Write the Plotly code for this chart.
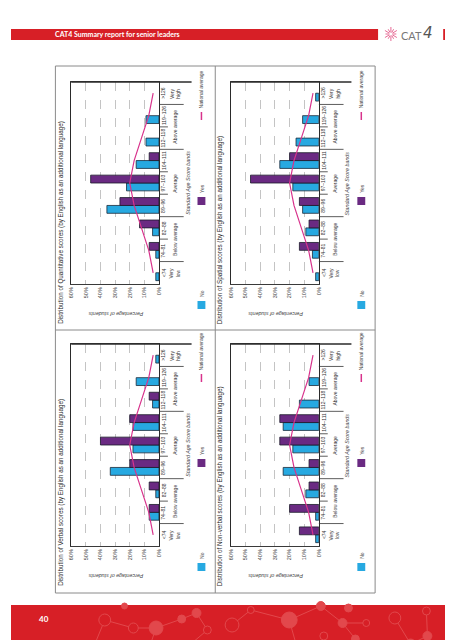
import plotly.graph_objects as go
import math

W, H = 453, 640

# ---------------- data ----------------
categories = ["<74", "74–81", "82–88", "89–96", "97–103", "104–111", "112–118", "119–126", ">126"]
band_groups = ["Very<br>low", "Below average", "Average", "Above average", "Very<br>high"]
group_centres = [0, 1.5, 4, 6.5, 8]
group_bounds = [0.5, 2.5, 5.5, 7.5]
value_ticks = [0, 10, 20, 30, 40, 50, 60]
value_tick_labels = ["0%", "10%", "20%", "30%", "40%", "50%", "60%"]
national_average = [4, 7, 12, 17, 20, 17, 12, 7, 4]

quant_no = [2.2, 2.2, 4.4, 35.6, 22.2, 15.6, 8.9, 8.9, 0]
quant_yes = [0, 6.7, 13.3, 26.7, 46.7, 6.7, 0, 0, 0]
spatial_no = [2.2, 4.4, 8.9, 11.1, 17.8, 26.7, 15.6, 11.1, 2.2]
spatial_yes = [0, 13.3, 6.7, 13.3, 46.7, 20.0, 0, 0, 0]
verbal_no = [0, 6.7, 2.2, 33.3, 17.8, 17.8, 4.4, 15.6, 2.2]
verbal_yes = [0, 6.7, 6.7, 20.0, 40.0, 20.0, 6.7, 0, 0]
nonverbal_no = [2.2, 2.2, 8.9, 24.4, 17.8, 24.4, 13.3, 6.7, 0]
nonverbal_yes = [13.3, 20.0, 6.7, 6.7, 26.7, 26.7, 0, 0, 0]

panel_names = ["Quantitative", "Spatial", "Verbal", "Non-verbal"]
panel_no = [quant_no, spatial_no, verbal_no, nonverbal_no]
panel_yes = [quant_yes, spatial_yes, verbal_yes, nonverbal_yes]

header_text = "CAT4 Summary report for senior leaders"
page_number = "40"

# ---------------- styling ----------------
RED = "#d71f26"
RED_LIGHT = "#e2484c"
BLUE = "#27a9e1"
PURPLE = "#6a2a82"
MAGENTA = "#d8338c"
FONT = "Liberation Sans, Arial, sans-serif"

def X(p):
    return p / W

def Y(p):
    return 1 - p / H

fig = go.Figure()
shapes = []
annotations = []

offsets = [(0, 0), (162, 0), (0, 262), (162, 262)]

def nz(vals):
    return [v if v else None for v in vals]

for i, name in enumerate(panel_names):
    dx, dy = offsets[i]
    k = "" if i == 0 else str(i + 1)
    xa, ya = "x" + k, "y" + k
    px0, px1 = 61 + dx, 150 + dx
    py0, py1 = 74 + dy, 276 + dy

    fig.add_trace(go.Bar(
        x=nz(panel_no[i]), y=categories, orientation="h", name="No",
        marker=dict(color=BLUE, line=dict(color="#1b2a3a", width=0.8)),
        xaxis=xa, yaxis=ya, showlegend=False, hoverinfo="skip"))
    fig.add_trace(go.Bar(
        x=nz(panel_yes[i]), y=categories, orientation="h", name="Yes",
        marker=dict(color=PURPLE, line=dict(color="#1b1b2a", width=0.8)),
        xaxis=xa, yaxis=ya, showlegend=False, hoverinfo="skip"))
    fig.add_trace(go.Scatter(
        x=national_average, y=categories, mode="lines", name="National average",
        line=dict(color=MAGENTA, width=1.2),
        xaxis=xa, yaxis=ya, showlegend=False, hoverinfo="skip"))

    fig.update_layout(**{
        "xaxis" + k: dict(domain=[X(px0), X(px1)], anchor=ya, range=[60, 0],
                           tickvals=value_ticks, ticktext=value_tick_labels,
                           tickangle=-90, tickfont=dict(size=5.5, color="#444", family=FONT),
                           showgrid=True, gridcolor="#c4c4c4", griddash="dash", gridwidth=0.6,
                           zeroline=False, showline=True, mirror=True,
                           linecolor="#3a3a3a", linewidth=1, ticks="", fixedrange=True),
        "yaxis" + k: dict(domain=[Y(py1), Y(py0)], anchor=xa, type="category",
                           categoryorder="array", categoryarray=categories,
                           range=[-0.5, 8.5], side="right", showticklabels=False,
                           showgrid=False, zeroline=False, showline=True, mirror=True,
                           linecolor="#2a2a2a", linewidth=1.3, ticks="", fixedrange=True),
    })

    # title
    annotations.append(dict(
        text=f"Distribution of {name} scores (by English as an additional language)",
        x=X(50 + dx), y=Y(318 + dy), xref="paper", yref="paper",
        xanchor="center", yanchor="bottom", textangle=-90, showarrow=False,
        font=dict(size=6.3, color="#2b2b2b", family=FONT)))

    # category labels
    for j, c in enumerate(categories):
        annotations.append(dict(
            text=c, x=X(154.5 + dx), y=j, xref="paper", yref=ya,
            xanchor="center", yanchor="middle", textangle=-90, showarrow=False,
            font=dict(size=5, color="#333", family=FONT)))
    # group labels
    for g, pos in zip(band_groups, group_centres):
        annotations.append(dict(
            text=g, x=X(166 + dx), y=pos, xref="paper", yref=ya,
            xanchor="center", yanchor="middle", textangle=-90, showarrow=False,
            font=dict(size=5, color="#333", family=FONT)))
    # separators
    for b in [0.5, 1.5, 2.5, 3.5, 4.5, 5.5, 6.5, 7.5]:
        x_end = 175 if b in group_bounds else 159
        shapes.append(dict(type="line", xref="paper", yref=ya,
                           x0=X(px1), x1=X(x_end + dx), y0=b, y1=b,
                           line=dict(color="#333", width=0.8)))
    shapes.append(dict(type="line", xref="paper", yref="paper",
                       x0=X(px0), x1=X(183 + dx), y0=Y(py0), y1=Y(py0),
                       line=dict(color="#2a2a2a", width=1.3)))

    # axis titles
    annotations.append(dict(
        text="<i>Standard Age Score bands</i>", x=X(179 + dx), y=Y((py0 + py1) / 2),
        xref="paper", yref="paper", xanchor="center", yanchor="middle",
        textangle=-90, showarrow=False, font=dict(size=5.3, color="#444", family=FONT)))
    annotations.append(dict(
        text="<i>Percentage of students</i>", x=X(106 + dx), y=Y(306 + dy),
        xref="paper", yref="paper", xanchor="center", yanchor="middle",
        textangle=180, showarrow=False, font=dict(size=5.3, color="#444", family=FONT)))

    # legend (drawn by hand, rotated)
    lx = 193 + dx
    shapes.append(dict(type="rect", xref="paper", yref="paper",
                       x0=X(lx - 4), x1=X(lx + 4), y0=Y(293 + dy), y1=Y(301 + dy),
                       fillcolor=BLUE, line=dict(width=0)))
    annotations.append(dict(text="No", x=X(lx), y=Y(291 + dy), xref="paper", yref="paper",
                            xanchor="center", yanchor="bottom", textangle=-90, showarrow=False,
                            font=dict(size=5, color="#444", family=FONT)))
    shapes.append(dict(type="rect", xref="paper", yref="paper",
                       x0=X(lx - 4), x1=X(lx + 4), y0=Y(189 + dy), y1=Y(197 + dy),
                       fillcolor=PURPLE, line=dict(width=0)))
    annotations.append(dict(text="Yes", x=X(lx), y=Y(187 + dy), xref="paper", yref="paper",
                            xanchor="center", yanchor="bottom", textangle=-90, showarrow=False,
                            font=dict(size=5, color="#444", family=FONT)))
    shapes.append(dict(type="line", xref="paper", yref="paper",
                       x0=X(lx), x1=X(lx), y0=Y(104 + dy), y1=Y(112 + dy),
                       line=dict(color=MAGENTA, width=1.5)))
    annotations.append(dict(text="National average", x=X(lx), y=Y(102 + dy), xref="paper", yref="paper",
                            xanchor="center", yanchor="bottom", textangle=-90, showarrow=False,
                            font=dict(size=5, color="#444", family=FONT)))

# ---------------- page furniture ----------------
shapes.append(dict(type="rect", xref="paper", yref="paper", x0=X(45), x1=X(369), y0=Y(585), y1=Y(58),
                   line=dict(color="#8a8a8a", width=1), layer="below"))
shapes.append(dict(type="line", xref="paper", yref="paper", x0=X(207), x1=X(207), y0=Y(585), y1=Y(58),
                   line=dict(color="#8a8a8a", width=1)))
shapes.append(dict(type="line", xref="paper", yref="paper", x0=X(45), x1=X(369), y0=Y(322), y1=Y(322),
                   line=dict(color="#8a8a8a", width=1)))

# header
shapes.append(dict(type="rect", xref="paper", yref="paper", x0=0, x1=X(372), y0=Y(32), y1=Y(21),
                   fillcolor=RED, line=dict(width=0), layer="below"))
shapes.append(dict(type="rect", xref="paper", yref="paper", x0=X(438), x1=1, y0=Y(32), y1=Y(21),
                   fillcolor=RED, line=dict(width=0), layer="below"))
annotations.append(dict(text="<b>" + header_text + "</b>", x=X(43), y=Y(26.5), xref="paper", yref="paper",
                        xanchor="left", yanchor="middle", showarrow=False,
                        font=dict(size=7, color="white", family="Lato, Open Sans, sans-serif")))
# logo starburst
cx, cy = 385, 26
for a in range(0, 360, 30):
    r1 = 2 if a % 60 else 1.5
    r2 = 7 if a % 60 else 5.5
    shapes.append(dict(type="line", xref="paper", yref="paper",
                       x0=X(cx + r1 * math.cos(math.radians(a))), y0=Y(cy + r1 * math.sin(math.radians(a))),
                       x1=X(cx + r2 * math.cos(math.radians(a))), y1=Y(cy + r2 * math.sin(math.radians(a))),
                       line=dict(color="#e0457a", width=0.8)))
annotations.append(dict(text="CAT", x=X(393), y=Y(27), xref="paper", yref="paper",
                        xanchor="left", yanchor="middle", showarrow=False,
                        font=dict(size=11, color="#777", family="Lato, sans-serif")))
annotations.append(dict(text="<i>4</i>", x=X(416), y=Y(25), xref="paper", yref="paper",
                        xanchor="left", yanchor="middle", showarrow=False,
                        font=dict(size=15, color="#555", family="DejaVu Sans, sans-serif")))

# footer
shapes.append(dict(type="rect", xref="paper", yref="paper", x0=0, x1=1, y0=0, y1=Y(597),
                   fillcolor=RED, line=dict(width=0), layer="below"))
circles = [(95, 612, 6, False), (124, 620, 5, False), (147, 620, 7, True), (173, 611, 4, True),
           (188, 605, 4.5, True), (199, 622, 4, False), (224, 617, 7, False), (243, 602, 3.5, False),
           (282, 612, 8, True), (314, 598, 4.5, True), (317, 628, 4, False), (336, 615, 4.5, True),
           (342, 600, 4, True), (360, 615, 3.5, False), (349, 631, 4, True), (389, 610, 6, False),
           (405, 636, 5, True), (421, 603, 4, False), (422, 628, 4.5, True), (115, 598, 3, True),
           (85, 636, 3.5, True), (181, 637, 3.5, False)]
links = [(95, 612, 124, 620), (124, 620, 147, 620), (147, 620, 173, 611), (173, 611, 188, 605),
         (188, 605, 199, 622), (224, 617, 243, 602), (243, 602, 282, 612), (282, 612, 314, 598),
         (314, 598, 336, 615), (336, 615, 360, 615), (336, 615, 349, 631), (389, 610, 405, 636),
         (405, 636, 422, 628), (421, 603, 422, 628), (147, 620, 140, 640), (282, 612, 290, 640),
         (95, 612, 85, 636), (199, 622, 181, 637)]
for x0, y0, x1, y1 in links:
    shapes.append(dict(type="line", xref="paper", yref="paper", x0=X(x0), y0=Y(y0), x1=X(x1), y1=Y(y1),
                       line=dict(color=RED_LIGHT, width=1), layer="below"))
for x, y, r, filled in circles:
    shapes.append(dict(type="circle", xref="paper", yref="paper",
                       x0=X(x - r), x1=X(x + r), y0=Y(y + r), y1=Y(y - r),
                       fillcolor=RED_LIGHT if filled else RED,
                       line=dict(color=RED_LIGHT, width=1), layer="below"))
annotations.append(dict(text="<b>" + page_number + "</b>", x=X(33), y=Y(611), xref="paper", yref="paper",
                        xanchor="center", yanchor="middle", showarrow=False,
                        font=dict(size=8, color="white", family="Lato, sans-serif")))

fig.update_layout(
    width=W, height=H, margin=dict(l=0, r=0, t=0, b=0),
    paper_bgcolor="white", plot_bgcolor="white",
    barmode="group", bargap=0.3, bargroupgap=0,
    shapes=shapes, annotations=annotations, showlegend=False,
    font=dict(family=FONT),
)

fig.write_html("out.html", config={"displayModeBar": False})
